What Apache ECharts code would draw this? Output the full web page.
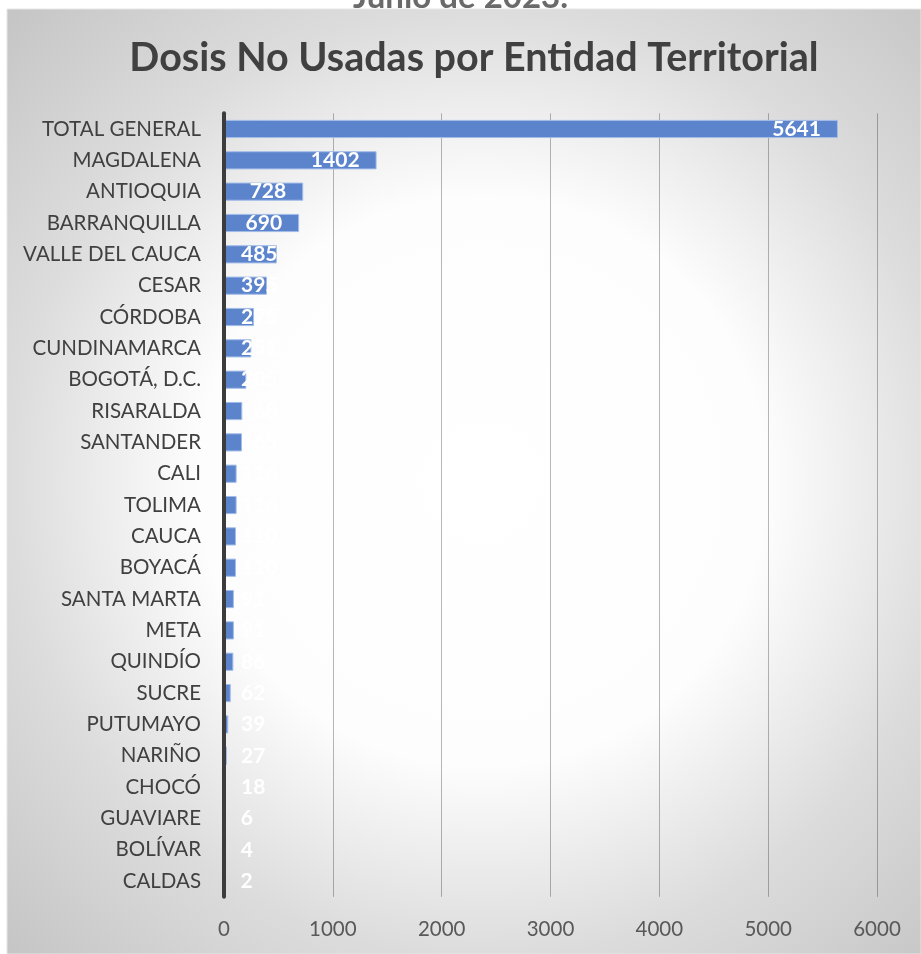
<!DOCTYPE html>
<html>
<head>
<meta charset="utf-8">
<script src="https://cdn.jsdelivr.net/npm/echarts@6/dist/echarts.min.js"></script>
<style>
html,body{margin:0;padding:0;background:#fff;}
#main{width:921px;height:954px;}
</style>
</head>
<body>
<div id="main"></div>
<script>
const categories = ["TOTAL GENERAL","MAGDALENA","ANTIOQUIA","BARRANQUILLA","VALLE DEL CAUCA","CESAR","CÓRDOBA","CUNDINAMARCA","BOGOTÁ, D.C.","RISARALDA","SANTANDER","CALI","TOLIMA","CAUCA","BOYACÁ","SANTA MARTA","META","QUINDÍO","SUCRE","PUTUMAYO","NARIÑO","CHOCÓ","GUAVIARE","BOLÍVAR","CALDAS"];
const values = [5641,1402,728,690,485,395,275,251,205,168,165,116,116,110,110,91,91,86,62,39,27,18,6,4,2];
const xTicks = [0,1000,2000,3000,4000,5000,6000];
const titleText = "Dosis No Usadas por Entidad Territorial";
const subtitleText = "Junio de 2023.";

const chart = echarts.init(document.getElementById('main'), null, {renderer:'canvas'});
const data = values.map(v => ({
  value: v,
  label: v >= 600
    ? {position: 'insideRight', distance: 17}
    : {position: [17, '50%'], align: 'left', verticalAlign: 'middle'}
}));

chart.setOption({
  backgroundColor: '#ffffff',
  animation: false,
  graphic: [
    {type:'rect', z:-10, silent:true, shape:{x:7,y:9,width:914,height:945},
     style:{fill:{type:'radial', x:0.52, y:0.5, r:0.74,
       colorStops:[{offset:0,color:'#ffffff'},{offset:0.42,color:'#fdfdfd'},{offset:0.7,color:'#dcdcdc'},{offset:1,color:'#c4c4c4'}]},
       stroke:'#e6e6e6', lineWidth:1}},
    {type:'text', z:10, silent:true, left:'center', top:-19,
     style:{text: subtitleText, font:'bold 33px Lato', fill:'#6a6a6a'}}
  ],
  title: {
    text: titleText,
    left: 469, top: 33, textAlign: 'center',
    textStyle: {fontFamily:'Lato', fontWeight:'bold', fontSize:39.5, color:'#404040'}
  },
  grid: {left: 224, right: 44, top: 113.3, height: 783.5, containLabel: false},
  xAxis: {
    type: 'value', min: 0, max: 6000, interval: 1000,
    axisLine: {show:false}, axisTick: {show:false},
    splitLine: {show:true, lineStyle:{color:'rgba(0,0,0,0.28)', width:1}},
    axisLabel: {margin: 22, fontFamily:'Lato', fontSize:20.5, color:'#595959',
      formatter: v => xTicks.includes(v) ? String(v) : ''}
  },
  yAxis: {
    type: 'category', data: categories, inverse: true, z: 5,
    axisLine: {show:true, lineStyle:{color:'#3c3c3c', width:4}},
    axisTick: {show:false},
    axisLabel: {margin: 23, fontFamily:'Lato', fontSize:20.5, color:'#404040'}
  },
  series: [{
    type: 'bar', data: data, barCategoryGap: '42%',
    itemStyle: {color:'#5b84cc', borderColor:'#a3bce8', borderWidth:1},
    label: {show:true, color:'#ffffff', fontFamily:'Lato', fontWeight:'bold', fontSize:21}
  }]
});
</script>
</body>
</html>
